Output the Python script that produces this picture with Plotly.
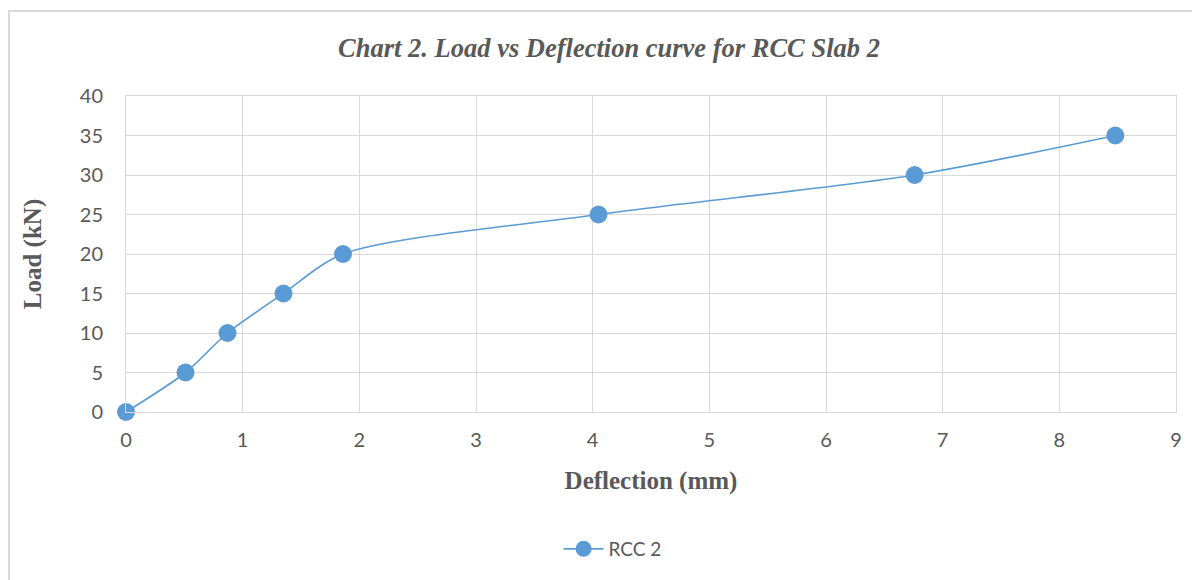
import plotly.graph_objects as go

deflection_mm = [0, 0.51, 0.87, 1.35, 1.86, 4.05, 6.76, 8.48]
load_kN = [0, 5, 10, 15, 20, 25, 30, 35]
series_name = "RCC 2"
chart_title = "Chart 2. Load vs Deflection curve for RCC Slab 2"
x_title = "Deflection (mm)"
y_title = "Load (kN)"

blue = "#5B9BD5"
grey_text = "#595959"
grid = "#D9D9D9"

# page body adds an 8px offset; compensate in the margins
L, T, W, H = 118, 88, 1050, 316

fig = go.Figure()
fig.add_trace(go.Scatter(
    x=deflection_mm, y=load_kN, name=series_name,
    mode="lines+markers", cliponaxis=False,
    line=dict(color=blue, width=1.6, shape="spline", smoothing=0.8),
    marker=dict(color=blue, size=18, line=dict(width=0)),
))

fig.update_layout(
    width=1200, height=580,
    paper_bgcolor="white", plot_bgcolor="white",
    margin=dict(l=L, r=1200 - L - W, t=T, b=580 - T - H, autoexpand=False),
    title=dict(text="<b><i>" + chart_title + "</i></b>",
               font=dict(family="Liberation Serif", size=26.5, color=grey_text),
               x=(601) / 1200, xref="container", xanchor="center", y=1 - 40/580, yanchor="middle"),
    showlegend=True,
    legend=dict(orientation="h", x=(L + W / 2) / 1200 - 0.032, xanchor="center", xref="container",
                y=(580 - 541) / 580, yref="container", yanchor="middle",
                font=dict(family="Lato", size=19, color=grey_text),
                itemwidth=40),
    font=dict(family="Lato", color=grey_text),
)

fig.update_xaxes(
    range=[0, 9], dtick=1, tick0=0, automargin=False,
    showgrid=True, gridcolor=grid, gridwidth=1,
    showline=True, linecolor=grid, linewidth=1, mirror=True,
    zeroline=False, ticks="", ticklabelstandoff=10,
    tickfont=dict(family="Lato", size=20, color=grey_text),
    title=dict(text="<b>" + x_title + "</b>", standoff=21,
               font=dict(family="Liberation Serif", size=25, color=grey_text)),
)
fig.update_yaxes(
    range=[0, 40], dtick=5, tick0=0, automargin=False,
    showgrid=True, gridcolor=grid, gridwidth=1,
    showline=True, linecolor=grid, linewidth=1, mirror=True,
    zeroline=False, ticks="", ticklabelstandoff=18,
    tickfont=dict(family="Lato", size=20, color=grey_text),
    title=dict(text="<b>" + y_title + "</b>", standoff=31,
               font=dict(family="Liberation Serif", size=25, color=grey_text)),
)

# outer chart border
fig.add_shape(type="rect", xref="paper", yref="paper",
              x0=(1 - L) / W, x1=(1200 - L + 10) / W, y0=-0.7, y1=(T + H - 3) / H,
              line=dict(color="#D9D9D9", width=2), fillcolor="rgba(0,0,0,0)", layer="below")

fig.write_html("out.html")
